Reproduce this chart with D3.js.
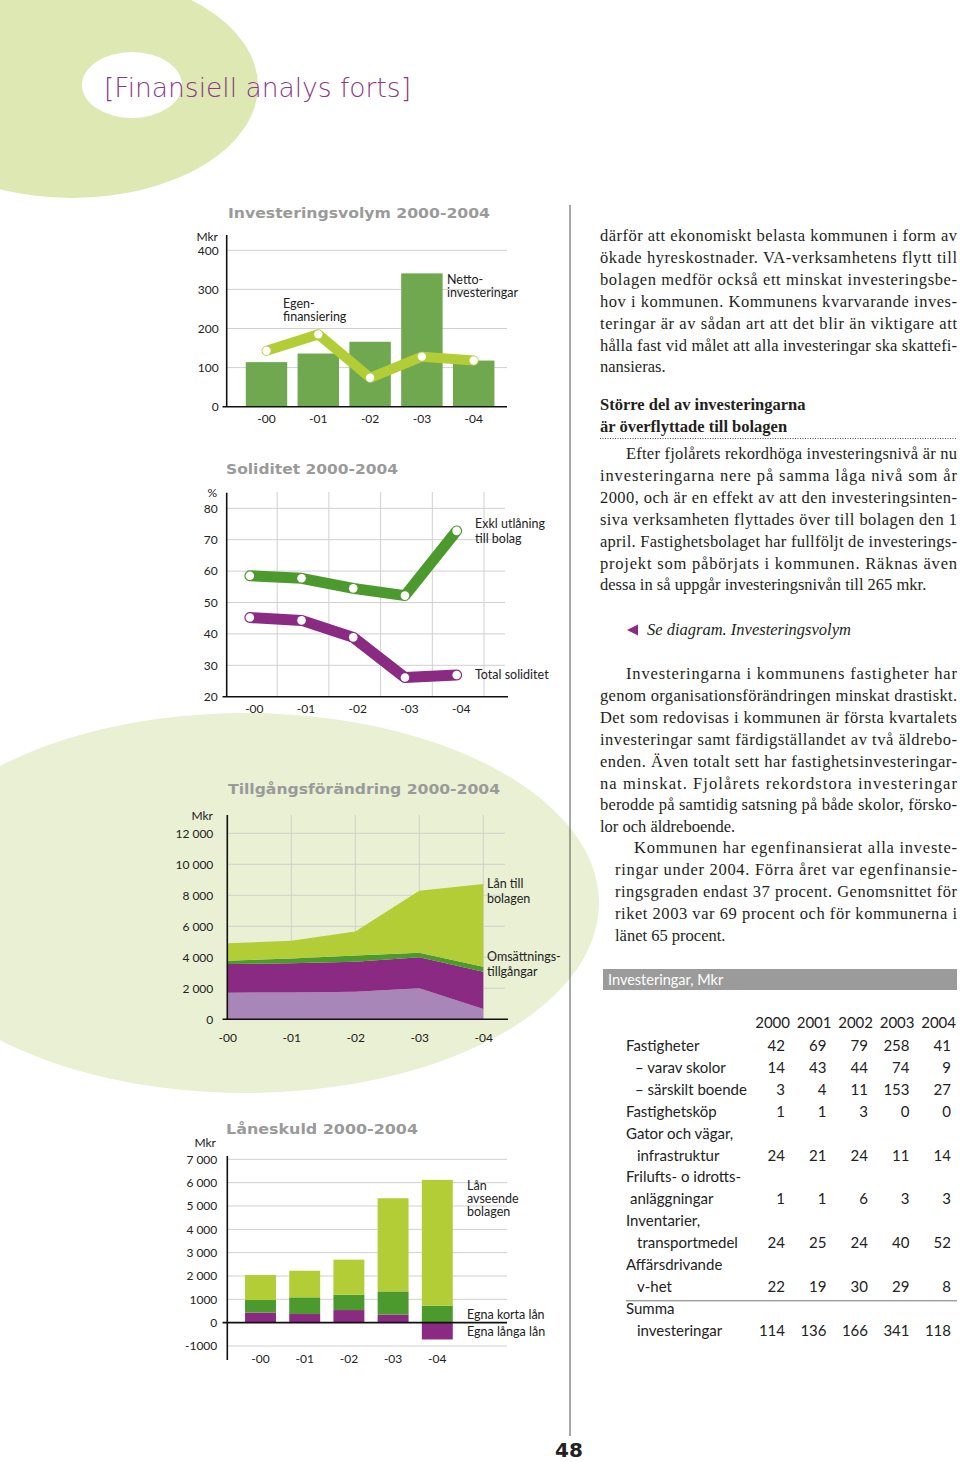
<!DOCTYPE html>
<html>
<head>
<meta charset="utf-8">
<script src="https://cdn.jsdelivr.net/npm/d3@7"></script>
<style>
    body { margin: 0; background: #fff; }
    svg text { font-family: Lato, "Open Sans", sans-serif; fill: #222; }
    .serif text { font-family: "Liberation Serif", "DejaVu Serif", serif; font-size: 16.5px; fill: #231f20; }
    .ctitle { font-family: "DejaVu Sans", sans-serif !important; font-weight: bold; font-size: 14.5px; fill: #9a9a9a !important; }
    .tick text { font-size: 12px; }
    .lbl { font-size: 12.5px; }
</style>
</head>
<body>
<svg id="page" width="960" height="1462"></svg>
<script>
const years = ["-00", "-01", "-02", "-03", "-04"];

// Investeringsvolym 2000-2004, Mkr
const nettoInvest = [114, 136, 166, 341, 118];
const egenFinans = [143, 185, 74, 128, 118];
const invTicks = [0, 100, 200, 300, 400];

// Soliditet 2000-2004, %
const solExkl = [58.5, 57.7, 54.5, 52.2, 72.8];
const solTotal = [45.2, 44.3, 38.9, 26.1, 26.9];
const solTicks = [20, 30, 40, 50, 60, 70, 80];

// Tillgångsförändring 2000-2004, Mkr (layers bottom -> top)
const tillgLjuslila = [1720, 1730, 1780, 2000, 670];
const tillgLila = [1850, 1880, 1940, 2000, 2400];
const tillgOmsattning = [210, 320, 390, 300, 320];
const tillgLanBolag = [1120, 1140, 1550, 4000, 5340];
const tillgTicks = [0, 2000, 4000, 6000, 8000, 10000, 12000];
const tillgTickLabels = ["0", "2 000", "4 000", "6 000", "8 000", "10 000", "12 000"];

// Låneskuld 2000-2004, Mkr
const laneLanga = [430, 370, 540, 340, -720];
const laneKorta = [540, 715, 660, 1000, 730];
const laneBolag = [1070, 1140, 1500, 3990, 5390];
const laneTicks = [-1000, 0, 1000, 2000, 3000, 4000, 5000, 6000, 7000];
const laneTickLabels = ["-1000", "0", "1000", "2 000", "3 000", "4 000", "5 000", "6 000", "7 000"];

// Investeringar, Mkr (table)
const tableYears = ["2000", "2001", "2002", "2003", "2004"];
const tableRows = [
    { label: ["Fastigheter"], values: [42, 69, 79, 258, 41] },
    { label: ["– varav skolor"], values: [14, 43, 44, 74, 9] },
    { label: ["– särskilt boende"], values: [3, 4, 11, 153, 27] },
    { label: ["Fastighetsköp"], values: [1, 1, 3, 0, 0] },
    { label: ["Gator och vägar,", "infrastruktur"], values: [24, 21, 24, 11, 14] },
    { label: ["Frilufts- o idrotts-", "anläggningar"], values: [1, 1, 6, 3, 3] },
    { label: ["Inventarier,", "transportmedel"], values: [24, 25, 24, 40, 52] },
    { label: ["Affärsdrivande", "v-het"], values: [22, 19, 30, 29, 8] },
    { label: ["Summa", "investeringar"], values: [114, 136, 166, 341, 118], total: true }
];

const C = {
    bar: "#70a84f", lime: "#b3cd36", green: "#4c9a2e",
    purple: "#8b2a82", lilac: "#a886b8", grid: "#d0d0d0"
};

const svg = d3.select("#page");

// background shapes
svg.append("ellipse").attr("cx", 72).attr("cy", 86).attr("rx", 186).attr("ry", 112).attr("fill", "#dde8b2");
svg.append("ellipse").attr("cx", 132).attr("cy", 85).attr("rx", 50).attr("ry", 33).attr("fill", "#fff");
svg.append("ellipse").attr("cx", 245).attr("cy", 903).attr("rx", 354).attr("ry", 190).attr("fill", "#e9f0d3");

svg.append("text")
    .attr("x", 104).attr("y", 97)
    .attr("textLength", 307).attr("lengthAdjust", "spacingAndGlyphs")
    .style("font-family", "'DejaVu Sans', sans-serif").style("font-weight", 200)
    .style("font-size", "27px").style("fill", "#8b3a87")
    .text("[Finansiell analys forts]");

svg.append("line").attr("x1", 570).attr("x2", 570).attr("y1", 205).attr("y2", 1436)
    .attr("stroke", "#555").attr("stroke-width", 1);
svg.append("text").attr("x", 569).attr("y", 1457).attr("text-anchor", "middle")
    .style("font-family", "'DejaVu Sans', sans-serif").style("font-weight", "bold")
    .style("font-size", "20px").style("fill", "#222").text("48");

function title(x, y, w, t) {
    svg.append("text").attr("class", "ctitle").attr("x", x).attr("y", y)
        .attr("textLength", w).attr("lengthAdjust", "spacingAndGlyphs").text(t);
}

function labels(x, ys, lines) {
    lines.forEach((t, i) => svg.append("text").attr("class", "lbl").attr("x", x).attr("y", ys[i]).text(t));
}

function yAxisLabels(g, scale, ticks, fmt, pad) {
    const ax = d3.axisLeft(scale).tickValues(ticks).tickSize(0).tickPadding(pad);
    if (fmt) ax.tickFormat((d, i) => fmt[i]);
    g.call(ax);
    g.select(".domain").remove();
}

function xAxisLabels(g, scale, pad) {
    g.call(d3.axisBottom(scale).tickSize(0).tickPadding(pad));
    g.select(".domain").remove();
}

function axisLine(x1, y1, x2, y2) {
    svg.append("line").attr("x1", x1).attr("y1", y1).attr("x2", x2).attr("y2", y2)
        .attr("stroke", "#111").attr("stroke-width", 1.6);
}

// ---------- Investeringsvolym ----------
(function() {
    const x = d3.scaleBand().domain(years).range([240.6, 499.6]).paddingInner(0.2).paddingOuter(0.1);
    const y = d3.scaleLinear().domain([0, 400]).range([406.7, 250.3]);
    const g = svg.append("g");
    title(228, 217.5, 262, "Investeringsvolym 2000-2004");

    g.selectAll(".grid").data(invTicks.slice(1)).enter().append("line")
        .attr("x1", 227).attr("x2", 507).attr("y1", d => y(d)).attr("y2", d => y(d))
        .attr("stroke", C.grid);

    g.selectAll("rect").data(nettoInvest).enter().append("rect")
        .attr("x", (d, i) => x(years[i])).attr("width", x.bandwidth())
        .attr("y", d => y(d)).attr("height", d => y(0) - y(d))
        .attr("fill", C.bar);

    const cx = (d, i) => x(years[i]) + x.bandwidth() / 2;
    g.append("path").datum(egenFinans)
        .attr("d", d3.line().x(cx).y(d => y(d)))
        .attr("fill", "none").attr("stroke", C.lime).attr("stroke-width", 10)
        .attr("stroke-linejoin", "round").attr("stroke-linecap", "round");
    g.selectAll("circle").data(egenFinans).enter().append("circle")
        .attr("cx", cx).attr("cy", d => y(d)).attr("r", 4.2).attr("fill", "#fff");

    axisLine(226.7, 235, 226.7, 406.7);
    axisLine(222.5, 406.7, 507, 406.7);
    yAxisLabels(svg.append("g").attr("transform", "translate(226.7,0)"), y, invTicks, null, 8);
    xAxisLabels(svg.append("g").attr("transform", "translate(0,406.7)"), x, 8);
    svg.append("text").attr("x", 218).attr("y", 241).attr("text-anchor", "end").style("font-size", "12px").text("Mkr");

    labels(283, [308, 321], ["Egen-", "finansiering"]);
    labels(447, [284, 297], ["Netto-", "investeringar"]);
})();

// ---------- Soliditet ----------
(function() {
    const x = d3.scaleBand().domain(years).range([225.5, 484]);
    const y = d3.scaleLinear().domain([20, 80]).range([696.7, 508.3]);
    const g = svg.append("g");
    title(226, 473.5, 172, "Soliditet 2000-2004");

    g.selectAll(".hg").data(solTicks.slice(1)).enter().append("line")
        .attr("x1", 227).attr("x2", 505).attr("y1", d => y(d)).attr("y2", d => y(d))
        .attr("stroke", C.grid);
    g.selectAll(".vg").data(years).enter().append("line")
        .attr("x1", d => x(d) + x.step()).attr("x2", d => x(d) + x.step())
        .attr("y1", 492).attr("y2", 696.7).attr("stroke", C.grid);

    const cx = (d, i) => x(years[i]) + x.bandwidth() / 2 - 1.5;
    [[solExkl, C.green], [solTotal, C.purple]].forEach(([data, col]) => {
        g.append("path").datum(data)
            .attr("d", d3.line().x(cx).y(d => y(d)))
            .attr("fill", "none").attr("stroke", col).attr("stroke-width", 11)
            .attr("stroke-linejoin", "round").attr("stroke-linecap", "round");
        g.selectAll(null).data(data).enter().append("circle")
            .attr("cx", cx).attr("cy", d => y(d)).attr("r", 4.3).attr("fill", "#fff");
    });

    axisLine(226.7, 492.7, 226.7, 696.7);
    axisLine(222.5, 696.7, 508, 696.7);
    yAxisLabels(svg.append("g").attr("transform", "translate(226.7,0)"), y, solTicks, null, 9);
    xAxisLabels(svg.append("g").attr("transform", "translate(3,696.7)"), x, 7.5);
    svg.append("text").attr("x", 217).attr("y", 497).attr("text-anchor", "end").style("font-size", "12px").text("%");

    labels(475, [528, 543], ["Exkl utlåning", "till bolag"]);
    labels(475, [679], ["Total soliditet"]);
})();

// ---------- Tillgångsförändring ----------
(function() {
    const x = d3.scalePoint().domain(years).range([227.3, 483.3]);
    const y = d3.scaleLinear().domain([0, 12000]).range([1019.3, 833.3]);
    const g = svg.append("g");
    title(228, 793.5, 272, "Tillgångsförändring 2000-2004");

    g.selectAll(".hg").data(tillgTicks.slice(1)).enter().append("line")
        .attr("x1", 227).attr("x2", 505).attr("y1", d => y(d)).attr("y2", d => y(d))
        .attr("stroke", C.grid);
    g.selectAll(".vg").data(years.slice(1)).enter().append("line")
        .attr("x1", d => x(d)).attr("x2", d => x(d))
        .attr("y1", 815).attr("y2", 1019.3).attr("stroke", C.grid);

    const rows = years.map((yr, i) => ({
        yr, a: tillgLjuslila[i], b: tillgLila[i], c: tillgOmsattning[i], d: tillgLanBolag[i]
    }));
    const series = d3.stack().keys(["a", "b", "c", "d"])(rows);
    const cols = [C.lilac, C.purple, C.green, C.lime];
    const area = d3.area().x(d => x(d.data.yr)).y0(d => y(d[0])).y1(d => y(d[1]));
    g.selectAll("path.layer").data(series).enter().append("path")
        .attr("class", "layer").attr("d", area).attr("fill", (d, i) => cols[i]);

    axisLine(227.3, 815, 227.3, 1019.3);
    axisLine(222.5, 1019.3, 508, 1019.3);
    yAxisLabels(svg.append("g").attr("transform", "translate(227.3,0)"), y, tillgTicks, tillgTickLabels, 14);
    xAxisLabels(svg.append("g").attr("transform", "translate(0,1019.3)"), x, 14);
    svg.append("text").attr("x", 213).attr("y", 820).attr("text-anchor", "end").style("font-size", "12px").text("Mkr");

    labels(487, [888, 903], ["Lån till", "bolagen"]);
    labels(487, [961, 976], ["Omsättnings-", "tillgångar"]);
})();

// ---------- Låneskuld ----------
(function() {
    const x = d3.scaleBand().domain(years).range([238.4, 459.4]).paddingInner(0.3).paddingOuter(0.15);
    const y = d3.scaleLinear().domain([-1000, 7000]).range([1346, 1159.3]);
    const g = svg.append("g");
    title(226, 1133.5, 192, "Låneskuld 2000-2004");

    g.selectAll(".hg").data(laneTicks.filter(d => d !== 0)).enter().append("line")
        .attr("x1", 227).attr("x2", 507).attr("y1", d => y(d)).attr("y2", d => y(d))
        .attr("stroke", C.grid);

    const rows = years.map((yr, i) => ({ yr, l: laneLanga[i], k: laneKorta[i], b: laneBolag[i] }));
    const series = d3.stack().keys(["l", "k", "b"]).offset(d3.stackOffsetDiverging)(rows);
    const cols = [C.purple, C.green, C.lime];
    series.forEach((s, i) => {
        g.selectAll(null).data(s).enter().append("rect")
            .attr("x", d => x(d.data.yr)).attr("width", x.bandwidth())
            .attr("y", d => y(Math.max(d[0], d[1])))
            .attr("height", d => Math.abs(y(d[0]) - y(d[1])))
            .attr("fill", cols[i]);
    });

    axisLine(227.3, 1156, 227.3, 1360);
    axisLine(222.5, y(0), 507, y(0));
    yAxisLabels(svg.append("g").attr("transform", "translate(227.3,0)"), y, laneTicks, laneTickLabels, 10);
    xAxisLabels(svg.append("g").attr("transform", "translate(0,1346)"), x, 8);
    svg.append("text").attr("x", 216).attr("y", 1147).attr("text-anchor", "end").style("font-size", "12px").text("Mkr");

    labels(467, [1190, 1203, 1216], ["Lån", "avseende", "bolagen"]);
    labels(467, [1319], ["Egna korta lån"]);
    labels(467, [1336], ["Egna långa lån"]);
})();

// ---------- body text ----------
const txt = svg.append("g").attr("class", "serif");
const lh = 21.9;
const right = 957;

function para(lines, y0, xFirst, xRest) {
    lines.forEach((t, i) => {
        const x = i === 0 ? xFirst : xRest;
        const el = txt.append("text").attr("x", x).attr("y", y0 + i * lh).text(t);
        if (i < lines.length - 1)
            el.attr("textLength", right - x).attr("lengthAdjust", "spacing");
    });
}

para([
    "därför att ekonomiskt belasta kommunen i form av",
    "ökade hyreskostnader. VA-verksamhetens flytt till",
    "bolagen medför också ett minskat investeringsbe-",
    "hov i kommunen. Kommunens kvarvarande inves-",
    "teringar är av sådan art att det blir än viktigare att",
    "hålla fast vid målet att alla investeringar ska skattefi-",
    "nansieras."
], 241, 600, 600);

txt.append("text").attr("x", 600).attr("y", 410).style("font-weight", "bold").text("Större del av investeringarna");
txt.append("text").attr("x", 600).attr("y", 432).style("font-weight", "bold").text("är överflyttade till bolagen");
svg.append("line").attr("x1", 600).attr("x2", 957).attr("y1", 438.5).attr("y2", 438.5)
    .attr("stroke", "#555").attr("stroke-width", 1).attr("stroke-dasharray", "1,1.5");

para([
    "Efter fjolårets rekordhöga investeringsnivå är nu",
    "investeringarna nere på samma låga nivå som år",
    "2000, och är en effekt av att den investeringsinten-",
    "siva verksamheten flyttades över till bolagen den 1",
    "april. Fastighetsbolaget har fullföljt de investerings-",
    "projekt som påbörjats i kommunen. Räknas även",
    "dessa in så uppgår investeringsnivån till 265 mkr."
], 459, 626, 600);

svg.append("path").attr("d", "M627,630L638,624.5L638,635.5Z").attr("fill", C.purple);
txt.append("text").attr("x", 647).attr("y", 635).style("font-style", "italic").text("Se diagram. Investeringsvolym");

para([
    "Investeringarna i kommunens fastigheter har",
    "genom organisationsförändringen minskat drastiskt.",
    "Det som redovisas i kommunen är första kvartalets",
    "investeringar samt färdigställandet av två äldrebo-",
    "enden. Även totalt sett har fastighetsinvesteringar-",
    "na minskat. Fjolårets rekordstora investeringar",
    "berodde på samtidig satsning på både skolor, försko-",
    "lor och äldreboende."
], 679, 626, 600);

para([
    "Kommunen har egenfinansierat alla investe-",
    "ringar under 2004. Förra året var egenfinansie-",
    "ringsgraden endast 37 procent. Genomsnittet för",
    "riket 2003 var 69 procent och för kommunerna i",
    "länet 65 procent."
], 853, 634, 615);

// ---------- table ----------
(function() {
    svg.append("rect").attr("x", 603).attr("y", 969).attr("width", 354).attr("height", 21).attr("fill", "#9b9b9b");
    svg.append("text").attr("x", 608).attr("y", 985).style("font-size", "14.5px").style("fill", "#fff")
        .text("Investeringar, Mkr");

    const col = d3.scalePoint().domain(tableYears).range([785, 951]);
    const t = svg.append("g").style("font-size", "15px");
    tableYears.forEach(yr => t.append("text").attr("x", col(yr) + 5).attr("y", 1028)
        .attr("text-anchor", "end").text(yr));

    let line = 0;
    const y0 = 1051, step = 21.9;
    tableRows.forEach(r => {
        if (r.total)
            svg.append("line").attr("x1", 626).attr("x2", 957)
                .attr("y1", y0 + line * step - 13).attr("y2", y0 + line * step - 13)
                .attr("stroke", "#777").attr("stroke-width", 1);
        r.label.forEach((s, i) => {
            const x = i === 0 ? (s.startsWith("–") ? 635 : 626) : (s === "anläggningar" ? 630 : 637);
            t.append("text").attr("x", x).attr("y", y0 + (line + i) * step).text(s);
        });
        line += r.label.length - 1;
        r.values.forEach((v, i) => t.append("text").attr("x", col(tableYears[i]))
            .attr("y", y0 + line * step).attr("text-anchor", "end").text(v));
        line += 1;
    });
})();
</script>
</body>
</html>
